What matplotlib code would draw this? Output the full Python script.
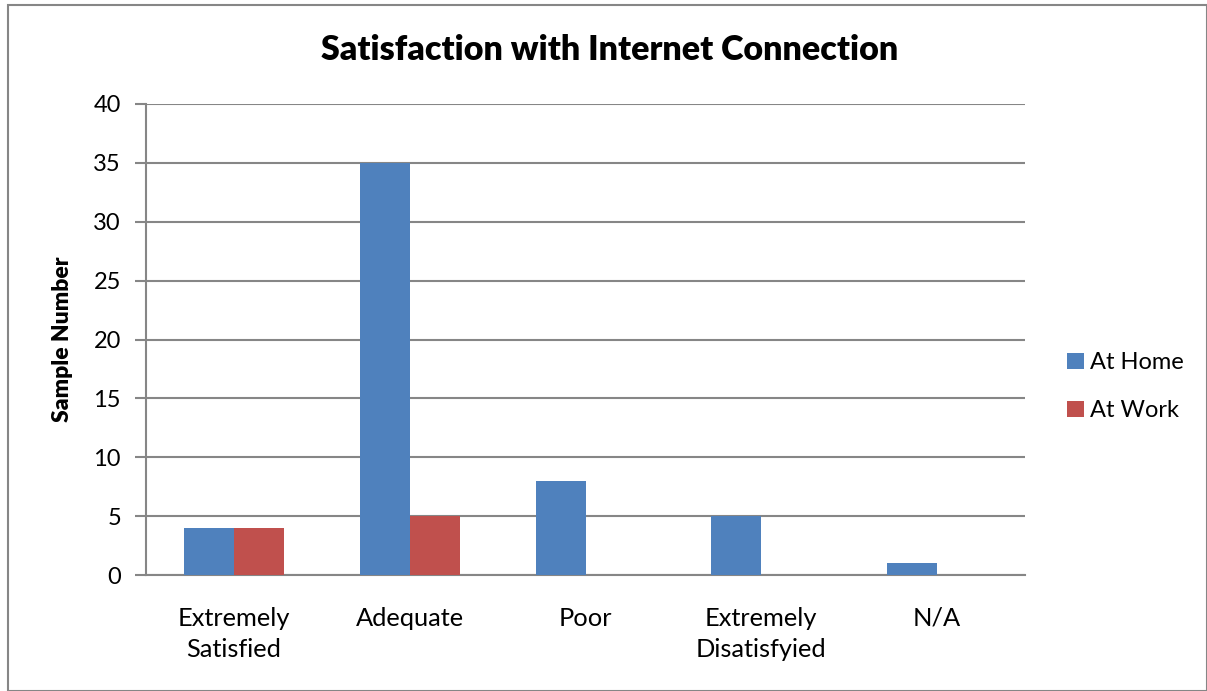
import matplotlib
matplotlib.use("Agg")
import matplotlib.pyplot as plt
import numpy as np
from matplotlib.patches import Rectangle

categories = ["Extremely\nSatisfied", "Adequate", "Poor", "Extremely\nDisatisfyied", "N/A"]
at_home = [4, 35, 8, 5, 1]
at_work = [4, 5, 0, 0, 0]
series_names = ["At Home", "At Work"]
colors = ["#4F81BD", "#C0504D"]
yticks = [0, 5, 10, 15, 20, 25, 30, 35, 40]

plt.rcParams['font.family'] = ['Lato', 'DejaVu Sans']

W, H = 1207, 691
fig = plt.figure(figsize=(W/100, H/100), dpi=100)
ax = fig.add_axes([146/W, 1-575/H, (1025-146)/W, (575-104)/H])

x = np.arange(len(categories))
bw = 0.284
ax.bar(x - bw/2, at_home, width=bw, color=colors[0], label=series_names[0], zorder=3)
ax.bar(x + bw/2, at_work, width=bw, color=colors[1], label=series_names[1], zorder=3)

ax.set_xlim(-0.5, len(categories)-0.5)
ax.set_ylim(0, 40)
ax.set_yticks(yticks)
ax.set_xticks(x)
ax.set_xticklabels(categories, fontsize=18.3, linespacing=1.4)
ax.tick_params(axis='x', length=0, pad=23)
ax.tick_params(axis='y', length=8, width=1.5, color='#868686', labelsize=17, pad=10)
ax.grid(axis='y', color='#868686', linewidth=1.5, zorder=0)
for s in ['top', 'right']:
    ax.spines[s].set_visible(False)
ax.spines['left'].set_color('#868686')
ax.spines['left'].set_linewidth(1.5)
ax.spines['bottom'].set_color('#868686')
ax.spines['bottom'].set_linewidth(1.5)

ax.set_ylabel("Sample Number", fontsize=16.5, fontweight='heavy', labelpad=15)
fig.text(610/W, 1-50/H, "Satisfaction with Internet Connection", fontsize=24.5,
         fontweight='heavy', ha='center', va='center')

leg = ax.legend(loc='upper left', bbox_to_anchor=(1046/W, 1-331/H), bbox_transform=fig.transFigure,
                frameon=False, fontsize=17, handlelength=0.7, handleheight=0.7,
                handletextpad=0.25, labelspacing=1.15)

fig.patches.append(Rectangle((8/W, 0), 1 - 8/W, 1 - 5/H, transform=fig.transFigure,
                             fill=False, edgecolor='#868686', linewidth=1.5))

fig.savefig("out.png", dpi=100)
